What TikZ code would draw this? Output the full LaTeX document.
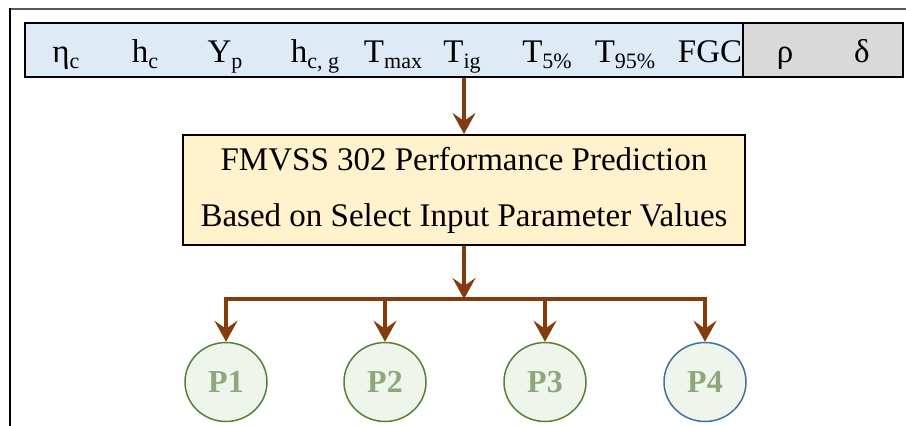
\documentclass[tikz,border=0pt]{standalone}
\usepackage{fontspec}
\setmainfont{Liberation Serif}
\usetikzlibrary{arrows.meta,shapes.geometric}
\definecolor{seta}{HTML}{843C0C}
\definecolor{azulclaro}{HTML}{DEEBF7}
\definecolor{cinza}{HTML}{D9D9D9}
\definecolor{creme}{HTML}{FFF2CC}
\definecolor{verdeclaro}{HTML}{EFF5EA}
\definecolor{verde}{HTML}{548235}
\definecolor{azul}{HTML}{41719C}
\definecolor{textoP}{HTML}{8FA77D}
\newcommand{\sbx}[2]{#1\raisebox{-6pt}{\fontsize{22}{22}\selectfont #2}}

\begin{document}
\begin{tikzpicture}[x=1pt, y=-1pt,
    flow/.style={seta, line width=4pt, -{Stealth[length=21pt,width=23pt,inset=8pt]}},
    branch/.style={seta, line width=4pt},
    celula/.style={draw=black, line width=2pt, minimum height=54pt, inner sep=0pt},
    parlab/.style={anchor=base, font=\fontsize{33}{38}\selectfont, inner sep=0pt},
    caixa/.style={draw=black, line width=2pt, fill=creme, minimum width=562pt, minimum height=110pt, align=center, font=\fontsize{33}{56}\selectfont},
    saida/.style={ellipse, fill=verdeclaro, line width=1.5pt, minimum width=82pt, minimum height=79pt, font=\fontsize{32}{32}\selectfont\bfseries, text=textoP}]
\useasboundingbox (0,0) rectangle (906,426);

% Moldura
\draw[gray!70!black, line width=2pt] (10,8.5) -- (906,8.5);
\draw[black, line width=2pt] (10,8) -- (10,426);

% Barra de parametros
\node[celula, fill=azulclaro, minimum width=718pt] (inbar) at (384,50) {};
\node[celula, fill=cinza, minimum width=160pt] (propbar) at (823,50) {};
\foreach \x/\lab [count=\i] in {66/{\sbx{η}{c}},145/{\sbx{h}{c}},225/{\sbx{Y}{p}},315/{\sbx{h}{c, g}},
    393/{\sbx{T}{max}},462/{\sbx{T}{ig}},547/{\sbx{T}{5\%}},625/{\sbx{T}{95\%}},710/{FGC},785/{ρ},862/{δ}} {
    \node[parlab] (par\i) at (\x,62) {\lab};
}

% Previsao
\node[caixa] (pred) at (464,190) {FMVSS 302 Performance Prediction\\Based on Select Input Parameter Values};
\draw[flow] (inbar.south -| pred.north) -- (pred.north);

% Saidas
\foreach \x/\i in {226/1,385/2,545/3} {
    \node[saida, draw=verde] (P\i) at (\x,382) {P\i};
}
\node[saida, draw=azul] (P4) at (705,382) {P4};

% Ramificacao
\coordinate (split) at (464,299);
\coordinate (bl) at (226,299);
\coordinate (br) at (705,299);
\draw[flow] (pred.south) -- (split);
\draw[branch, line cap=rect] (bl) -- (br);
\foreach \i in {1,...,4} {
    \draw[flow] (P\i.north |- bl) -- (P\i.north);
}
\end{tikzpicture}
\end{document}
